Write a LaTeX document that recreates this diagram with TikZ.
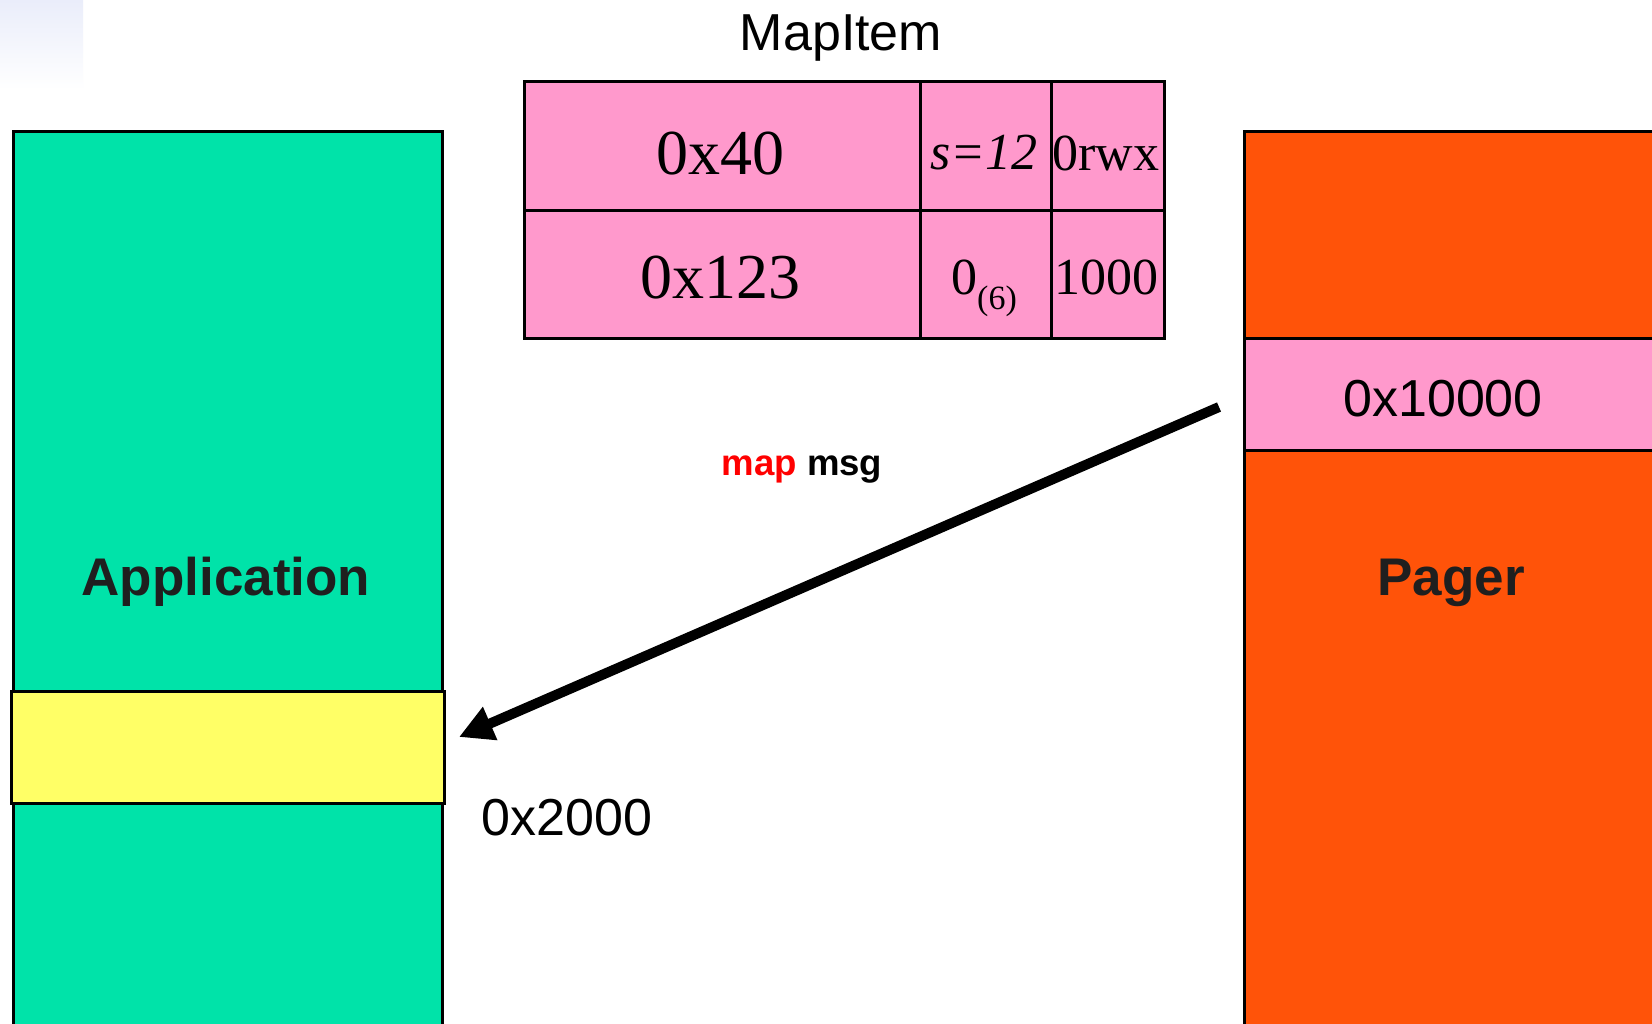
\documentclass[tikz,border=0pt]{standalone}
\usepackage{fontspec}
\setmainfont{Liberation Sans}
\newfontfamily\tablefont{Liberation Serif}
\usetikzlibrary{arrows.meta}

\definecolor{appgreen}{RGB}{0,227,169}
\definecolor{pagerorange}{RGB}{255,83,9}
\definecolor{itempink}{RGB}{255,153,204}
\definecolor{winyellow}{RGB}{255,255,102}
\definecolor{cornertint}{RGB}{234,237,250}

\tikzset{
  region/.style={draw=black, line width=1.3pt, rectangle, inner sep=0pt, anchor=north west},
  cell/.style={draw=black, line width=1.3pt, fill=itempink, rectangle, inner sep=0pt, anchor=north west},
  celltext/.style={inner sep=0pt, font=\tablefont\fontsize{26pt}{30pt}\selectfont},
  bigcelltext/.style={inner sep=0pt, font=\tablefont\fontsize{32pt}{36pt}\selectfont},
  plainlabel/.style={inner sep=0pt, font=\fontsize{26pt}{30pt}\selectfont},
  boxlabel/.style={inner sep=0pt, anchor=base, font=\bfseries\fontsize{26.5pt}{30pt}\selectfont, text=black!88},
  msgarrow/.style={line width=5pt, -{Triangle[length=17pt,width=17pt]}},
}

\begin{document}
\begin{tikzpicture}[x=0.5pt,y=-0.5pt]
  \clip (0,0) rectangle (1652,1023);
  \fill[white] (0,0) rectangle (1652,1023);

  % faint tint in the upper left corner
  \shade[top color=cornertint, bottom color=white] (0,0) rectangle (83,90);

  % address spaces
  \node[region, fill=appgreen, minimum width=214.5pt, minimum height=460pt] (app) at (12,130) {};
  \node[region, fill=pagerorange, minimum width=220pt, minimum height=460pt] (pager) at (1243,130) {};

  % mapped window and source page
  \node[region, fill=winyellow, line width=1.6pt, minimum width=216.5pt, minimum height=56pt] (win) at (10,690) {};
  \node[region, fill=itempink, minimum width=220pt, minimum height=56pt] (band) at (1243,337) {};

  \node[boxlabel] (applbl) at (226,595) {Application};
  \node[boxlabel] (pagerlbl) at (1451,595) {Pager};
  \node[plainlabel] (bandlbl) at (1443,399) {0x10000};
  \node[plainlabel] (winlbl) at (567,818) {0x2000};

  % the map item
  \node[plainlabel, anchor=base] (title) at (841,50) {MapItem};
  \node[cell, minimum width=198pt, minimum height=64.5pt] (c11) at (523,80) {};
  \node[cell, minimum width=65.5pt, minimum height=64.5pt] (c12) at (919,80) {};
  \node[cell, minimum width=56.5pt, minimum height=64.5pt] (c13) at (1050,80) {};
  \node[cell, minimum width=198pt, minimum height=64pt] (c21) at (523,209) {};
  \node[cell, minimum width=65.5pt, minimum height=64pt] (c22) at (919,209) {};
  \node[cell, minimum width=56.5pt, minimum height=64pt] (c23) at (1050,209) {};

  \node[bigcelltext] (t11) at (720,154) {0x40};
  \node[celltext] (t12) at (984,153) {\itshape s=12};
  \node[celltext] (t13) at (1106,153) {0rwx};
  \node[bigcelltext] (t21) at (720,278) {0x123};
  \node[celltext, anchor=base] (t22) at (984,294) {0\raisebox{-7.5pt}{\fontsize{17pt}{20pt}\selectfont(6)}};
  \node[celltext, anchor=base] (t23) at (1106,294) {1000};

  % the message
  \node[inner sep=0pt, font=\bfseries\fontsize{18.3pt}{22pt}\selectfont] (msg) at (802,469)
    {\textcolor{red}{map} msg};
  \coordinate (src) at (1219,407);
  \coordinate (dst) at (459,737);
  \draw[msgarrow] (src) -- (dst);
\end{tikzpicture}
\end{document}
